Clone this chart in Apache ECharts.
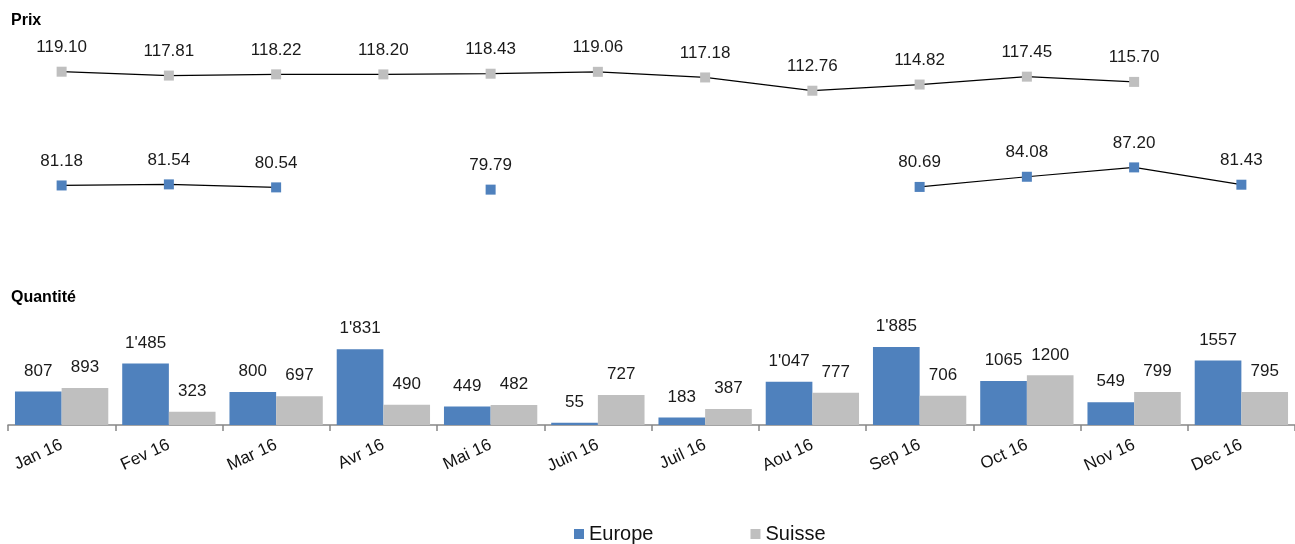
<!DOCTYPE html>
<html><head><meta charset="utf-8">
<script src="https://cdn.jsdelivr.net/npm/echarts@6/dist/echarts.min.js"></script>
<style>html,body{margin:0;padding:0;background:#fff}#c{width:1295px;height:544px}</style>
</head><body><div id="c"></div>
<script>
const categories = ['Jan 16','Fev 16','Mar 16','Avr 16','Mai 16','Juin 16','Juil 16','Aou 16','Sep 16','Oct 16','Nov 16','Dec 16'];
const prixSuisse = [119.10,117.81,118.22,118.20,118.43,119.06,117.18,112.76,114.82,117.45,115.70,null];
const prixEurope = [81.18,81.54,80.54,null,79.79,null,null,null,80.69,84.08,87.20,81.43];
const qteEurope = [807,1485,800,1831,449,55,183,1047,1885,1065,549,1557];
const qteSuisse = [893,323,697,490,482,727,387,777,706,1200,799,795];
const qteEuropeLabels = ['807',"1'485",'800',"1'831",'449','55','183',"1'047","1'885",'1065','549','1557'];
const qteSuisseLabels = ['893','323','697','490','482','727','387','777','706','1200','799','795'];

const BLUE = '#4F81BD', GRAY = '#BFBFBF';
const FONT = 'Liberation Sans, Arial, sans-serif';
const chart = echarts.init(document.getElementById('c'));
const lbl = {show:true, position:'top', fontSize:17, color:'#1a1a1a', fontFamily:FONT};
chart.setOption({
  animation:false,
  textStyle:{fontFamily:FONT},
  title:[
    {text:'Prix', left:6, top:8, textStyle:{fontSize:16, fontWeight:'bold', color:'#000', fontFamily:FONT}},
    {text:'Quantité', left:6, top:285, textStyle:{fontSize:16, fontWeight:'bold', color:'#000', fontFamily:FONT}}
  ],
  legend:{data:['Europe','Suisse'], left:569, top:519, icon:'rect', itemWidth:10, itemHeight:10, itemGap:97,
    itemStyle:{borderWidth:0},
    textStyle:{fontSize:20, color:'#111', fontFamily:FONT}},
  grid:[
    {left:8, right:0, top:30, height:210},
    {left:8, right:0, top:305, height:120}
  ],
  xAxis:[
    {type:'category', gridIndex:0, data:categories, show:false},
    {type:'category', gridIndex:1, data:categories,
      axisLine:{lineStyle:{color:'#868686', width:1.5}},
      axisTick:{show:true, alignWithLabel:false, length:6, lineStyle:{color:'#868686', width:1.5}},
      axisLabel:{rotate:25, fontSize:17, color:'#111', margin:19, fontFamily:FONT}}
  ],
  yAxis:[
    {type:'value', gridIndex:0, min:63, max:133, show:false, splitLine:{show:false}},
    {type:'value', gridIndex:1, min:0, max:2900, show:false, splitLine:{show:false}}
  ],
  series:[
    {name:'Europe', type:'bar', xAxisIndex:1, yAxisIndex:1, data:qteEurope, barCategoryGap:'13%', barGap:'0%',
      itemStyle:{color:BLUE},
      label:Object.assign({}, lbl, {distance:12, formatter:p=>qteEuropeLabels[p.dataIndex]})},
    {name:'Suisse', type:'bar', xAxisIndex:1, yAxisIndex:1, data:qteSuisse,
      itemStyle:{color:GRAY},
      label:Object.assign({}, lbl, {distance:12, formatter:p=>qteSuisseLabels[p.dataIndex]})},
    {name:'Prix Suisse', type:'line', xAxisIndex:0, yAxisIndex:0, data:prixSuisse,
      symbol:'rect', symbolSize:10, showSymbol:true, showAllSymbol:true,
      lineStyle:{color:'#000', width:1.2}, itemStyle:{color:GRAY},
      label:Object.assign({}, lbl, {distance:11, formatter:p=>p.value==null?'':p.value.toFixed(2)})},
    {name:'Prix Europe', type:'line', xAxisIndex:0, yAxisIndex:0, data:prixEurope,
      symbol:'rect', symbolSize:10, showSymbol:true, showAllSymbol:true,
      lineStyle:{color:'#000', width:1.2}, itemStyle:{color:BLUE},
      label:Object.assign({}, lbl, {distance:11, formatter:p=>p.value==null?'':p.value.toFixed(2)})}
  ]
});
</script></body></html>
